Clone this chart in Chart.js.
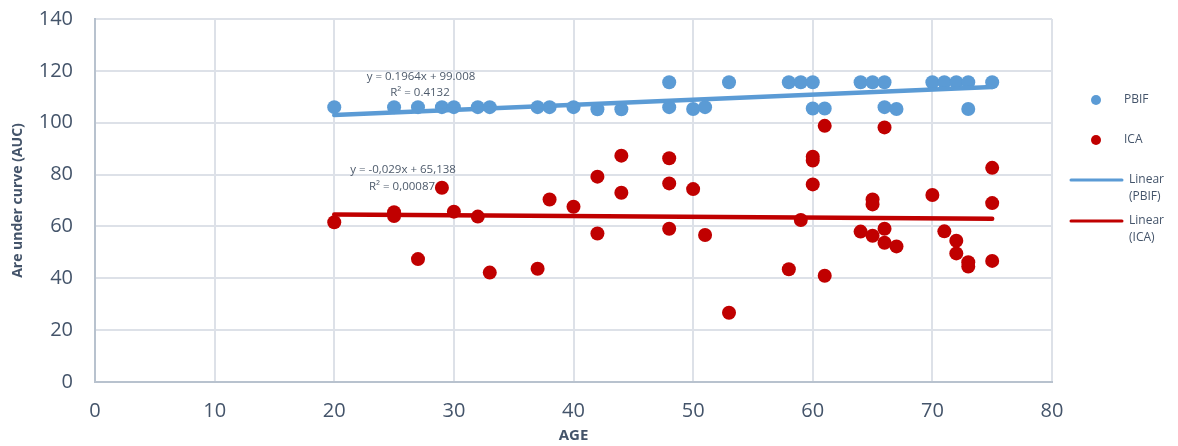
<!DOCTYPE html>
<html>
<head>
<meta charset="utf-8">
<script src="https://cdn.jsdelivr.net/npm/chart.js@4/dist/chart.umd.min.js"></script>
<style>
  html, body { margin: 0; padding: 0; background: #ffffff; }
  #wrap { width: 1178px; height: 446px; }
</style>
</head>
<body>
<div id="wrap"><canvas id="c" width="1178" height="446"></canvas></div>
<script>
// Age of each PBIF measurement and its area under curve
const pbifAge = [20, 25, 27, 29, 30, 32, 33, 37, 38, 40, 42, 44, 48, 48, 50, 51, 53, 58, 59, 60, 60, 61, 64, 65, 66, 66, 67, 70, 71, 72, 73, 73, 75];
const pbifAuc = [106, 106, 106, 106, 106, 106, 106, 106, 106, 106, 105.2, 105.2, 115.6, 106, 105.3, 106, 115.6, 115.6, 115.6, 115.6, 105.5, 105.5, 115.6, 115.6, 115.6, 106, 105.3, 115.6, 115.6, 115.6, 115.6, 105.3, 115.6];

// Age of each ICA measurement and its area under curve
const icaAge = [20, 25, 25, 27, 29, 30, 32, 33, 37, 38, 40, 42, 42, 44, 44, 48, 48, 48, 50, 51, 53, 58, 59, 60, 60, 60, 61, 61, 64, 65, 65, 65, 66, 66, 66, 67, 70, 71, 72, 72, 73, 73, 75, 75, 75];
const icaAuc = [61.6, 65.5, 64, 47.4, 74.9, 65.7, 63.8, 42.2, 43.7, 70.4, 67.6, 79.2, 57.3, 87.3, 73, 86.3, 76.6, 59.1, 74.4, 56.7, 26.7, 43.5, 62.5, 86.9, 85.4, 76.2, 98.8, 41.0, 58.0, 70.4, 68.5, 56.4, 98.2, 59.1, 53.7, 52.3, 72.1, 58.1, 54.5, 49.6, 46.2, 44.5, 82.6, 69.0, 46.7];

// Linear fits
const pbifFit = { slope: 0.1964, intercept: 99.008, eq: 'y = 0.1964x + 99.008', r2: 'R\u00B2 = 0.4132' };
const icaFit = { slope: -0.029, intercept: 65.138, eq: 'y = -0,029x + 65,138', r2: 'R\u00B2 = 0,00087' };

// Axis settings
const xTicks = [0, 10, 20, 30, 40, 50, 60, 70, 80];
const yTicks = [0, 20, 40, 60, 80, 100, 120, 140];

const BLUE = '#5b9bd5';
const RED = '#c00000';
const TEXT = '#44546a';
const FONT = "'Open Sans', 'Noto Sans', sans-serif";

const toPoints = (xs, ys) => xs.map((x, i) => ({ x: x, y: ys[i] }));
const fitLine = (fit, xs) => {
  const lo = Math.min(...xs), hi = Math.max(...xs);
  return [{ x: lo, y: fit.slope * lo + fit.intercept }, { x: hi, y: fit.slope * hi + fit.intercept }];
};

// Legend on the right and regression labels
const extras = {
  id: 'extras',
  afterDraw(chart) {
    const ctx = chart.ctx;
    ctx.save();
    ctx.textBaseline = 'middle';

    // regression equations
    ctx.fillStyle = '#4d5a6b';
    ctx.font = '11.5px ' + FONT;
    ctx.textAlign = 'center';
    ctx.fillText(pbifFit.eq, 421, 77);
    ctx.fillText(pbifFit.r2, 420, 93);
    ctx.fillText(icaFit.eq, 403, 170);
    ctx.fillText(icaFit.r2, 402, 187);

    // legend
    ctx.textAlign = 'left';
    ctx.font = '12px ' + FONT;
    ctx.fillStyle = BLUE;
    ctx.beginPath(); ctx.arc(1096, 100, 5, 0, Math.PI * 2); ctx.fill();
    ctx.fillStyle = RED;
    ctx.beginPath(); ctx.arc(1096, 140, 5, 0, Math.PI * 2); ctx.fill();

    ctx.lineCap = 'round';
    ctx.lineWidth = 3;
    ctx.strokeStyle = BLUE;
    ctx.beginPath(); ctx.moveTo(1071, 180); ctx.lineTo(1122, 180); ctx.stroke();
    ctx.strokeStyle = RED;
    ctx.beginPath(); ctx.moveTo(1071, 221); ctx.lineTo(1122, 221); ctx.stroke();

    ctx.fillStyle = TEXT;
    ctx.fillText('PBIF', 1124, 100);
    ctx.fillText('ICA', 1124, 140);
    ctx.fillText('Linear', 1129, 180);
    ctx.fillText('(PBIF)', 1129, 197);
    ctx.fillText('Linear', 1129, 221);
    ctx.fillText('(ICA)', 1129, 238);
    ctx.restore();
  }
};

new Chart(document.getElementById('c'), {
  type: 'scatter',
  data: {
    datasets: [
      {
        label: 'PBIF',
        data: toPoints(pbifAge, pbifAuc),
        backgroundColor: BLUE,
        borderColor: BLUE,
        pointRadius: 7,
        borderWidth: 0,
        order: 2
      },
      {
        label: 'ICA',
        data: toPoints(icaAge, icaAuc),
        backgroundColor: RED,
        borderColor: RED,
        pointRadius: 7,
        borderWidth: 0,
        order: 2
      },
      {
        label: 'Linear (PBIF)',
        type: 'line',
        data: fitLine(pbifFit, pbifAge),
        borderColor: BLUE,
        borderWidth: 4.5,
        pointRadius: 0,
        borderCapStyle: 'round',
        fill: false,
        order: 1
      },
      {
        label: 'Linear (ICA)',
        type: 'line',
        data: fitLine(icaFit, icaAge),
        borderColor: RED,
        borderWidth: 4.5,
        pointRadius: 0,
        borderCapStyle: 'round',
        fill: false,
        order: 1
      }
    ]
  },
  options: {
    responsive: false,
    animation: false,
    layout: { padding: { top: 19, right: 126, left: 0, bottom: 0 } },
    plugins: {
      legend: { display: false },
      tooltip: { enabled: false }
    },
    scales: {
      x: {
        type: 'linear',
        min: xTicks[0],
        max: xTicks[xTicks.length - 1],
        afterBuildTicks: s => { s.ticks = xTicks.map(v => ({ value: v })); },
        afterFit: s => { s.height = 64; s.paddingLeft = 0; s.paddingRight = 0; },
        ticks: { color: TEXT, font: { family: FONT, size: 20 }, padding: 17, maxRotation: 0 },
        grid: { color: '#dde1e8', lineWidth: 2, drawTicks: false },
        border: { color: '#b8c2ce', width: 2 },
        title: { display: true, text: 'AGE', color: TEXT, font: { family: FONT, size: 15, weight: 'bold' }, padding: { top: 0, bottom: 1 } }
      },
      y: {
        type: 'linear',
        min: yTicks[0],
        max: yTicks[yTicks.length - 1],
        afterBuildTicks: s => { s.ticks = yTicks.map(v => ({ value: v })); },
        afterFit: s => { s.width = 95; s.paddingTop = 0; s.paddingBottom = 0; },
        ticks: { color: TEXT, font: { family: FONT, size: 20 }, padding: 22 },
        grid: { color: '#dde1e8', lineWidth: 2, drawTicks: false },
        border: { color: '#b8c2ce', width: 2 },
        title: { display: true, text: 'Are under curve (AUC)', color: TEXT, font: { family: FONT, size: 14, weight: 'bold' }, padding: { top: 10, bottom: 0 } }
      }
    }
  },
  plugins: [extras]
});
</script>
</body>
</html>
